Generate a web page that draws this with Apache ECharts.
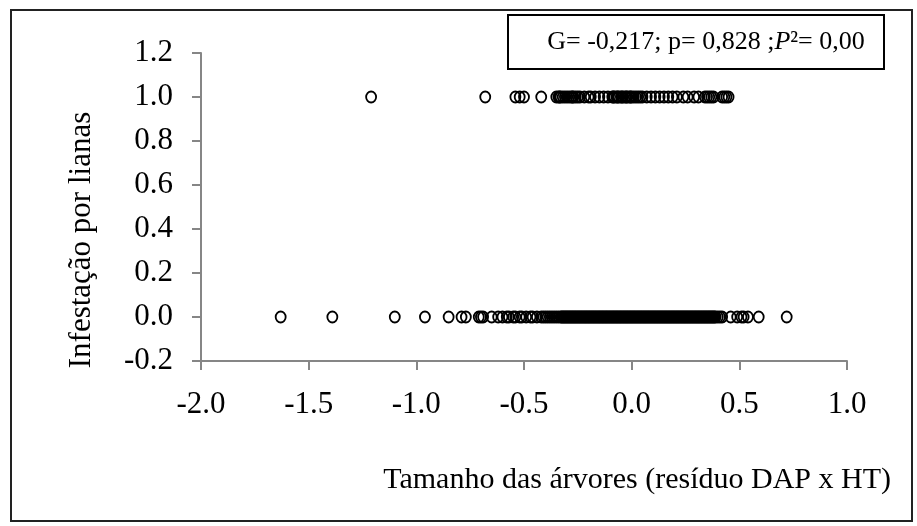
<!DOCTYPE html>
<html>
<head>
<meta charset="utf-8">
<script src="https://cdn.jsdelivr.net/npm/echarts@6/dist/echarts.min.js"></script>
<style>
html,body{margin:0;padding:0;background:#fff;}
#c{width:917px;height:526px;}
</style>
</head>
<body>
<div id="c"></div>
<script>
// Data
var infestedX = [-1.21, -0.68, -0.54, -0.52, -0.50, -0.42, -0.35, -0.34, -0.335, -0.33, -0.32, -0.31, -0.30, -0.29, -0.28, -0.275, -0.27, -0.26, -0.25, -0.24, -0.22, -0.20, -0.19, -0.17, -0.15, -0.13, -0.11, -0.09, -0.085, -0.08, -0.07, -0.065, -0.06, -0.05, -0.045, -0.04, -0.03, -0.025, -0.02, -0.01, -0.005, 0.00, 0.01, 0.02, 0.03, 0.04, 0.05, 0.07, 0.09, 0.11, 0.13, 0.15, 0.17, 0.19, 0.21, 0.24, 0.26, 0.29, 0.31, 0.34, 0.35, 0.36, 0.37, 0.38, 0.42, 0.43, 0.44, 0.45];
var notInfestedX = [-1.63, -1.39, -1.10, -0.96, -0.85, -0.79, -0.77, -0.71, -0.70, -0.69, -0.65, -0.62, -0.60, -0.58, -0.57, -0.55, -0.54, -0.52, -0.51, -0.49, -0.47, -0.46, -0.44, -0.42, -0.41, -0.40, -0.39, -0.38, -0.37, -0.36, -0.35, -0.34, -0.33, -0.325, -0.32, -0.315, -0.31, -0.305, -0.30, -0.295, -0.29, -0.285, -0.28, -0.275, -0.27, -0.265, -0.26, -0.255, -0.25, -0.245, -0.24, -0.235, -0.23, -0.225, -0.22, -0.215, -0.21, -0.205, -0.20, -0.195, -0.19, -0.185, -0.18, -0.175, -0.17, -0.165, -0.16, -0.155, -0.15, -0.145, -0.14, -0.135, -0.13, -0.125, -0.12, -0.115, -0.11, -0.105, -0.10, -0.095, -0.09, -0.085, -0.08, -0.075, -0.07, -0.065, -0.06, -0.055, -0.05, -0.045, -0.04, -0.035, -0.03, -0.025, -0.02, -0.015, -0.01, -0.005, 0.00, 0.005, 0.01, 0.015, 0.02, 0.025, 0.03, 0.035, 0.04, 0.045, 0.05, 0.055, 0.06, 0.065, 0.07, 0.075, 0.08, 0.085, 0.09, 0.095, 0.10, 0.105, 0.11, 0.115, 0.12, 0.125, 0.13, 0.135, 0.14, 0.145, 0.15, 0.155, 0.16, 0.165, 0.17, 0.175, 0.18, 0.185, 0.19, 0.195, 0.20, 0.205, 0.21, 0.215, 0.22, 0.225, 0.23, 0.235, 0.24, 0.245, 0.25, 0.255, 0.26, 0.265, 0.27, 0.275, 0.28, 0.285, 0.29, 0.295, 0.30, 0.305, 0.31, 0.315, 0.32, 0.325, 0.33, 0.335, 0.34, 0.345, 0.35, 0.355, 0.36, 0.365, 0.37, 0.375, 0.38, 0.385, 0.39, 0.40, 0.41, 0.42, 0.46, 0.49, 0.51, 0.52, 0.54, 0.59, 0.72];
var infestedY = 1;
var notInfestedY = 0;
var xTicks = [-2.0, -1.5, -1.0, -0.5, 0.0, 0.5, 1.0];
var yTicks = [-0.2, 0.0, 0.2, 0.4, 0.6, 0.8, 1.0, 1.2];
var xTitle = 'Tamanho das árvores (resíduo DAP x HT)';
var yTitle = 'Infestação por lianas';

var pts = [];
infestedX.forEach(function(x){ pts.push([x, infestedY]); });
notInfestedX.forEach(function(x){ pts.push([x, notInfestedY]); });

var font = '"Liberation Serif", "Times New Roman", serif';
var chart = echarts.init(document.getElementById('c'), null, {renderer: 'canvas'});
chart.setOption({
  animation: false,
  backgroundColor: '#fff',
  grid: {left: 201, right: 70, top: 53, bottom: 165, containLabel: false},
  xAxis: {
    type: 'value', min: xTicks[0], max: xTicks[xTicks.length-1], interval: 0.5,
    axisLine: {show: true, onZero: false, lineStyle: {color: '#868686', width: 2}},
    axisTick: {show: true, length: 9, lineStyle: {color: '#868686', width: 2}},
    splitLine: {show: false},
    axisLabel: {margin: 28, color: '#000', fontFamily: font, fontSize: 31,
      formatter: function(v){ return v.toFixed(1); }}
  },
  yAxis: {
    type: 'value', min: yTicks[0], max: yTicks[yTicks.length-1], interval: 0.2,
    axisLine: {show: true, onZero: false, lineStyle: {color: '#868686', width: 2}},
    axisTick: {show: true, length: 9, lineStyle: {color: '#868686', width: 2}},
    splitLine: {show: false},
    axisLabel: {margin: 28, color: '#000', fontFamily: font, fontSize: 31,
      formatter: function(v){ return v.toFixed(1); }}
  },
  series: [{
    type: 'scatter',
    data: pts,
    symbol: 'circle',
    symbolSize: [10, 11],
    itemStyle: {color: 'rgba(255,255,255,0)', borderColor: '#000', borderWidth: 1.9, opacity: 1},
    emphasis: {disabled: true}
  }],
  graphic: [
    {type: 'rect', shape: {x: 11, y: 10, width: 901, height: 511},
     style: {fill: 'none', stroke: '#222', lineWidth: 2}, silent: true},
    {type: 'rect', shape: {x: 508, y: 15, width: 376, height: 54},
     style: {fill: '#fff', stroke: '#000', lineWidth: 2}, silent: true, z: 10},
    {type: 'text', x: 706, y: 42, z: 11,
     style: {text: 'G= -0,217; p= 0,828 ;{i|P}²= 0,00', font: '26px ' + font, fill: '#000',
       align: 'center', verticalAlign: 'middle',
       rich: {i: {fontStyle: 'italic', fontFamily: font, fontSize: 26}}}},
    {type: 'text', x: 891, y: 480,
     style: {text: xTitle, font: '30px ' + font, fill: '#000', align: 'right', verticalAlign: 'middle'}},
    {type: 'text', x: 82, y: 240, rotation: Math.PI/2,
     style: {text: yTitle, font: '31px ' + font, fill: '#000', align: 'center', verticalAlign: 'middle'}}
  ]
});
</script>
</body>
</html>
